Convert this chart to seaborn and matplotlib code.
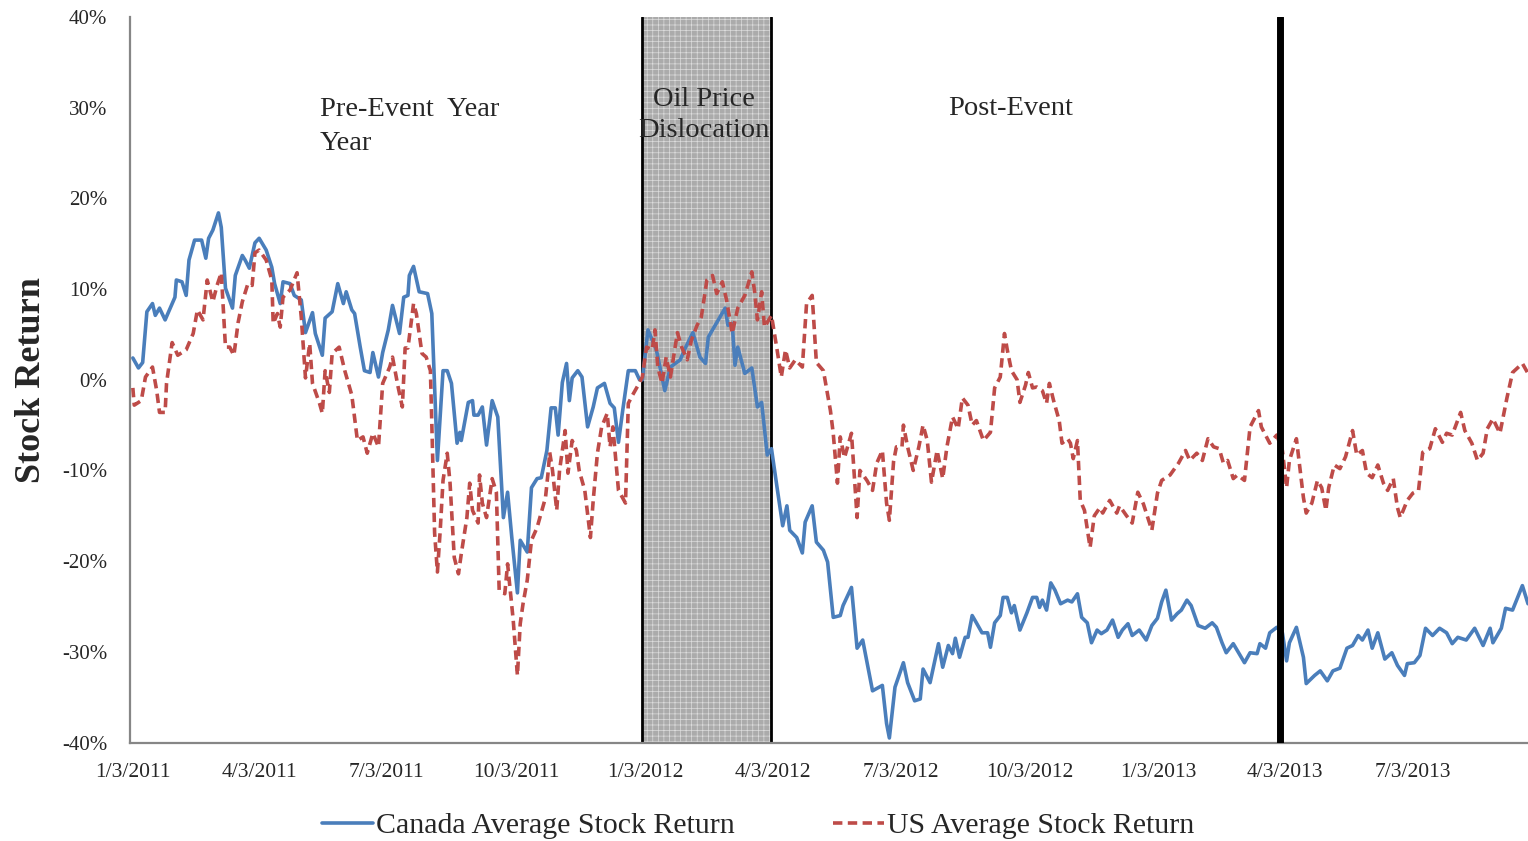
import matplotlib
matplotlib.use('Agg')
import numpy as np
import pandas as pd
import matplotlib.pyplot as plt
import seaborn as sns

# calendar days after 1/3/2011 and returns in %
start = pd.Timestamp('2011-01-03')

can_days = [0, 4, 7, 10, 14, 16, 19, 23, 30, 31, 35, 38, 40, 44, 49, 52, 54, 57, 61, 63,
            66, 71, 73, 78, 80, 83, 87, 90, 95, 99, 101, 105, 107, 112, 115, 120, 123, 128, 130, 135,
            137, 142, 146, 150, 152, 156, 158, 162, 165, 169, 171, 175, 178, 182, 185, 190, 193, 196, 197, 200,
            204, 210, 213, 217, 221, 224, 227, 231, 233, 234, 239, 242, 243, 246, 249, 252, 256, 260, 264, 267,
            270, 274, 276, 281, 284, 288, 291, 295, 298, 301, 303, 306, 309, 311, 313, 317, 320, 324, 328, 331,
            336, 340, 343, 346, 349, 353, 358, 361, 363, 367, 373, 379, 383, 390, 393, 399, 404, 408, 410, 416,
            422, 424, 427, 429, 431, 436, 441, 445, 448, 452, 455, 459, 463, 466, 468, 473, 477, 479, 484, 487,
            492, 495, 499, 504, 506, 512, 516, 520, 527, 534, 537, 539, 543, 549, 552, 557, 561, 563, 568, 574,
            577, 581, 584, 586, 589, 593, 595, 598, 601, 605, 609, 611, 614, 618, 620, 623, 626, 628, 632, 637,
            641, 644, 646, 648, 651, 654, 657, 661, 666, 669, 673, 676, 680, 683, 687, 690, 694, 698, 702, 705,
            709, 712, 717, 722, 726, 730, 733, 736, 740, 744, 747, 751, 754, 759, 764, 769, 772, 776, 779, 784,
            792, 796, 801, 803, 807, 810, 815, 819, 822, 824, 829, 834, 836, 842, 846, 851, 855, 860, 865, 869,
            873, 876, 880, 883, 887, 892, 897, 901, 906, 908, 913, 917, 921, 926, 931, 936, 940, 944, 950, 956,
            962, 967, 969, 975, 978, 983, 990, 994]
can_ret = [2.4, 1.3, 1.9, 7.5, 8.4, 7.1, 7.9, 6.6, 9.1, 11.0, 10.8, 9.3, 13.2, 15.4, 15.4, 13.4, 15.6, 16.5, 18.4, 16.8,
           10.1, 7.9, 11.5, 13.7, 13.2, 12.3, 15.1, 15.6, 14.3, 12.4, 10.6, 8.4, 10.8, 10.6, 9.3, 8.8, 5.2, 7.4, 5.1, 2.7,
           6.8, 7.5, 10.6, 8.4, 9.7, 7.7, 7.3, 3.6, 1.0, 0.8, 3.0, 0.3, 3.0, 5.5, 8.2, 5.1, 9.1, 9.3, 11.5, 12.5,
           9.7, 9.5, 7.3, -8.9, 1.0, 1.0, -0.4, -7.0, -5.8, -6.7, -2.5, -2.3, -3.9, -3.9, -3.0, -7.2, -2.3, -4.1, -15.2, -12.4,
           -17.4, -23.5, -17.7, -19.0, -11.9, -10.9, -10.8, -7.8, -3.1, -3.1, -6.1, -0.3, 1.8, -2.3, 0.2, 1.0, 0.3, -5.2, -3.0, -0.9,
           -0.4, -2.6, -3.1, -6.9, -3.4, 1.0, 1.0, 0.0, 0.0, 5.5, 3.3, -1.2, 1.4, 2.2, 3.3, 5.2, 2.5, 1.8, 4.7, 6.3,
           7.9, 6.0, 6.2, 1.6, 3.6, 0.7, 1.3, -3.0, -2.5, -8.3, -7.6, -11.9, -16.1, -13.9, -16.6, -17.4, -19.1, -15.7, -13.9, -17.9,
           -18.8, -20.1, -26.2, -26.0, -24.9, -22.9, -29.6, -28.7, -34.3, -33.7, -37.9, -39.5, -33.9, -31.2, -33.4, -35.4, -35.2, -31.9, -33.4, -29.1,
           -31.7, -29.3, -30.2, -28.5, -30.6, -28.4, -28.4, -26.0, -26.8, -27.9, -27.9, -29.5, -26.8, -26.0, -24.0, -24.0, -25.7, -24.9, -27.6, -25.7,
           -24.0, -24.0, -25.1, -24.3, -25.4, -22.4, -23.2, -24.7, -24.3, -24.5, -23.6, -26.2, -26.8, -29.0, -27.6, -28.0, -27.6, -26.5, -28.4, -27.6,
           -26.9, -28.2, -27.6, -28.7, -27.1, -26.3, -24.5, -23.2, -26.5, -25.8, -25.4, -24.3, -24.9, -27.1, -27.4, -26.8, -27.3, -29.0, -30.1, -29.1,
           -31.2, -30.1, -30.2, -29.1, -29.6, -27.9, -27.3, -27.9, -31.0, -29.0, -27.3, -30.6, -33.5, -32.6, -32.1, -33.2, -32.1, -31.8, -29.6, -29.3,
           -28.2, -28.7, -27.6, -29.6, -27.9, -30.8, -30.1, -31.5, -32.6, -31.3, -31.2, -30.4, -27.4, -28.2, -27.4, -27.9, -29.1, -28.4, -28.7, -27.4,
           -29.3, -27.4, -29.0, -27.4, -25.2, -25.4, -22.7, -24.7]

us_days = [0, 1, 6, 9, 14, 17, 19, 23, 24, 28, 32, 38, 43, 46, 50, 53, 57, 60, 63, 66,
           69, 72, 75, 78, 82, 85, 87, 90, 95, 99, 100, 103, 105, 107, 112, 117, 120, 123, 126, 128,
           133, 135, 137, 140, 142, 147, 151, 156, 160, 164, 167, 171, 175, 178, 183, 185, 189, 192, 194, 196,
           200, 202, 206, 209, 212, 213, 215, 217, 219, 221, 224, 226, 229, 232, 234, 238, 240, 242, 246, 247,
           249, 252, 256, 259, 261, 265, 267, 271, 274, 276, 278, 281, 284, 288, 290, 294, 296, 297, 299, 302,
           304, 308, 310, 313, 316, 318, 322, 326, 328, 331, 334, 338, 340, 342, 346, 351, 353, 356, 360, 363,
           366, 370, 372, 374, 377, 380, 383, 388, 391, 395, 398, 402, 405, 409, 413, 416, 420, 423, 427, 431,
           436, 441, 443, 445, 448, 450, 455, 459, 462, 465, 468, 472, 477, 480, 484, 487, 492, 497, 499, 502,
           504, 507, 512, 516, 518, 523, 527, 530, 534, 537, 539, 542, 544, 548, 549, 552, 556, 560, 563, 566,
           569, 573, 577, 580, 584, 588, 591, 595, 598, 601, 606, 611, 614, 618, 621, 623, 626, 630, 632, 636,
           638, 641, 644, 648, 651, 653, 656, 660, 662, 666, 668, 670, 673, 675, 678, 682, 685, 689, 691, 696,
           701, 703, 708, 712, 716, 720, 726, 730, 733, 739, 745, 750, 753, 758, 762, 766, 770, 774, 777, 780,
           784, 787, 792, 796, 802, 804, 810, 815, 819, 822, 824, 829, 834, 836, 840, 844, 847, 850, 852, 856,
           860, 864, 869, 872, 876, 879, 883, 887, 891, 894, 898, 901, 903, 908, 912, 916, 919, 924, 928, 933,
           936, 940, 946, 949, 954, 958, 962, 965, 969, 974, 979, 983, 990, 994]
us_ret = [-0.9, -2.8, -2.3, 0.3, 1.4, -1.2, -3.6, -3.6, -0.4, 4.1, 2.7, 3.3, 5.1, 7.7, 6.6, 11.0, 8.6, 10.4, 11.8, 3.6,
          3.6, 2.7, 6.3, 8.6, 10.6, 10.4, 14.0, 14.3, 13.2, 11.0, 6.2, 7.3, 5.8, 9.1, 9.9, 11.8, 6.9, 0.2, 4.0, -0.4,
          -2.6, -3.7, 1.0, -1.4, 2.9, 3.6, 1.0, -1.7, -6.7, -6.3, -8.1, -5.9, -7.4, -0.4, 1.4, 2.5, -0.8, -3.0, 3.5, 3.5,
          8.4, 7.3, 2.9, 2.5, 1.0, -4.8, -16.9, -21.2, -16.6, -11.1, -8.1, -11.4, -19.6, -21.4, -19.2, -15.2, -11.4, -14.4, -15.8, -10.5,
          -13.6, -15.2, -10.9, -12.4, -23.2, -23.6, -20.3, -26.5, -32.6, -26.9, -24.7, -22.1, -17.7, -16.3, -15.2, -13.0, -10.0, -8.0, -10.0, -14.4,
          -10.0, -5.6, -10.3, -6.7, -7.8, -10.0, -12.2, -17.4, -13.3, -8.1, -5.2, -3.7, -7.4, -5.2, -12.2, -13.6, -2.6, -1.7, -0.6, 0.3,
          3.6, 3.3, 5.5, 1.4, -0.4, 2.5, 0.3, 5.2, 3.6, 2.2, 4.4, 6.0, 6.9, 11.0, 11.5, 9.5, 10.8, 8.8, 5.1, 7.9,
          9.3, 11.9, 9.7, 6.6, 9.7, 5.8, 7.1, 3.3, 0.3, 3.3, 1.3, 2.2, 1.4, 8.4, 9.3, 1.9, 1.0, -3.4, -5.9, -11.4,
          -6.3, -8.6, -5.9, -15.2, -10.0, -11.1, -12.2, -9.2, -7.8, -13.6, -15.5, -9.0, -7.4, -7.4, -5.0, -7.4, -10.0, -7.4, -5.0, -6.7,
          -11.3, -7.8, -10.9, -7.4, -4.1, -5.4, -2.0, -2.8, -5.0, -4.5, -6.7, -5.8, -0.9, 0.3, 5.1, 3.3, 1.0, 0.0, -2.5, -0.6,
          0.8, -0.9, -0.8, -1.2, -2.6, -0.4, -2.3, -4.5, -7.0, -6.5, -7.0, -8.7, -6.7, -13.3, -14.4, -18.5, -15.0, -14.1, -14.7, -13.3,
          -14.7, -13.9, -15.0, -15.8, -12.4, -13.7, -16.6, -12.5, -11.1, -10.5, -9.2, -7.8, -8.9, -8.1, -8.9, -6.5, -7.4, -7.6, -9.2, -8.9,
          -10.9, -10.5, -11.1, -5.2, -3.4, -5.2, -7.0, -6.1, -7.8, -11.9, -8.9, -6.5, -13.0, -14.7, -13.6, -11.1, -11.9, -14.4, -11.9, -9.4,
          -9.8, -8.5, -5.6, -8.3, -7.8, -10.3, -10.8, -9.4, -11.4, -12.2, -10.9, -14.1, -15.2, -13.3, -12.5, -12.2, -8.0, -7.6, -5.4, -6.9,
          -5.9, -6.1, -3.6, -5.6, -7.0, -8.9, -8.1, -5.4, -4.3, -5.9, -2.0, 0.8, 1.8, 0.7]

tick_labels = ['1/3/2011', '4/3/2011', '7/3/2011', '10/3/2011', '1/3/2012', '4/3/2012',
               '7/3/2012', '10/3/2012', '1/3/2013', '4/3/2013', '7/3/2013']
y_ticks = [-40, -30, -20, -10, 0, 10, 20, 30, 40]

event_start = pd.Timestamp('2012-01-01')
event_end = pd.Timestamp('2012-04-02')
cutoff = pd.Timestamp('2013-03-30')

can = pd.DataFrame({'Date': start + pd.to_timedelta(can_days, unit='D'), 'Return': can_ret})
us = pd.DataFrame({'Date': start + pd.to_timedelta(us_days, unit='D'), 'Return': us_ret})

sns.set_style('white')
plt.rcParams['font.family'] = ['Liberation Serif', 'DejaVu Serif']
plt.rcParams['axes.unicode_minus'] = False
plt.rcParams['hatch.linewidth'] = 0.5

fig = plt.figure(figsize=(15.28, 8.41), dpi=100)
ax = fig.add_axes([0.0851, 0.1171, 0.9149, 0.8627])

# oil price dislocation window
ax.axvspan(event_start, event_end, facecolor='#ababab', edgecolor='#dcdcdc',
           hatch='+++', lw=0, zorder=0)
ax.axvline(event_start, color='black', lw=2, zorder=1)
ax.axvline(event_end, color='black', lw=2, zorder=1)

sns.lineplot(data=can, x='Date', y='Return', ax=ax, color='#4a7ebb', lw=2.6,
             estimator=None, label='Canada Average Stock Return', zorder=2)
sns.lineplot(data=us, x='Date', y='Return', ax=ax, color='#be4b48', lw=2.6,
             linestyle=(0, (2.6, 1.5)), estimator=None,
             label='US Average Stock Return', zorder=2)

ax.axvline(cutoff, color='black', lw=5, zorder=3)

ax.set_ylim(-40, 40)
ax.set_xlim(pd.Timestamp('2011-01-01'), start + pd.Timedelta(days=994))
ax.set_yticks(y_ticks)
ax.set_yticklabels(['%d%%' % v for v in y_ticks], fontsize=15)
ax.set_xticks(pd.to_datetime(tick_labels, format='%m/%d/%Y'))
ax.set_xticklabels(tick_labels, fontsize=15.5)
ax.set_xlabel('')
ax.set_ylabel('Stock Return', fontsize=26, fontweight='bold', labelpad=10)

sns.despine(ax=ax)
for s in ['left', 'bottom']:
    ax.spines[s].set_color('#868686')
    ax.spines[s].set_linewidth(1.6)
ax.tick_params(axis='both', direction='out', length=4.5, width=1.2, color='#868686')
ax.tick_params(axis='y', pad=12)
ax.tick_params(axis='x', pad=10)

ax.text(start + pd.Timedelta(days=133), 27.9, 'Pre-Event  Year\nYear', fontsize=20.5,
        ha='left', va='center', linespacing=1.45)
ax.text(pd.Timestamp('2012-02-14'), 29.2, 'Oil Price\nDislocation', fontsize=20.5,
        ha='center', va='center', linespacing=1.36)
ax.text(start + pd.Timedelta(days=581), 29.9, 'Post-Event', fontsize=20.5,
        ha='left', va='center')

handles, labels = ax.get_legend_handles_labels()
ax.get_legend().remove()
fig.legend(handles, labels, loc='center', bbox_to_anchor=(0.496, 0.018), ncol=2,
           frameon=False, fontsize=21.5, handlelength=1.7, handletextpad=0.1,
           columnspacing=3.3)

fig.savefig('out.png', dpi=100)
